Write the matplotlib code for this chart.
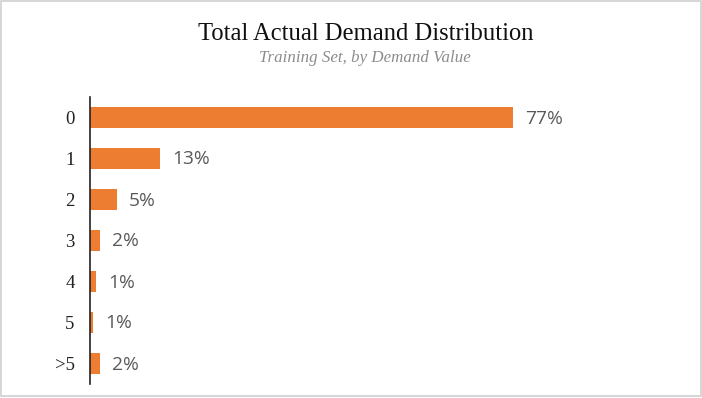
import matplotlib
matplotlib.use("Agg")
import matplotlib.pyplot as plt
from matplotlib.patches import Rectangle
from matplotlib.transforms import offset_copy

categories = ["0", "1", "2", "3", "4", "5", ">5"]
values = [77.2, 12.8, 4.9, 1.8, 1.1, 0.6, 1.8]
labels = ["77%", "13%", "5%", "2%", "1%", "1%", "2%"]

W, H = 702, 398
fig = plt.figure(figsize=(W / 100, H / 100), dpi=100)
fig.patch.set_facecolor("white")

ax = fig.add_axes([90 / W, 1 - 384 / H, 550 / W, (384 - 97) / H])
y = list(range(len(categories)))
ax.barh(y, values, height=0.52, color="#ED7D31")
ax.set_ylim(len(categories) - 0.5, -0.5)
ax.set_xlim(0, 100.4)
ax.set_yticks(y)
ax.set_yticklabels(categories, fontfamily="Liberation Serif", fontsize=13.5, color="#222222")
ax.tick_params(axis="y", length=0, pad=11)
ax.set_xticks([])
for s in ["top", "right", "bottom"]:
    ax.spines[s].set_visible(False)
ax.spines["left"].set_color("#222222")
ax.spines["left"].set_linewidth(1.2)

for yi, v, lab in zip(y, values, labels):
    tr = offset_copy(ax.transData, fig=fig, x=12, y=-1, units="dots")
    ax.text(v, yi, lab, transform=tr, va="center", ha="left",
            fontfamily="Open Sans", fontsize=13.8, color="#595959")

fig.text(366 / W, 1 - 34.5 / H, "Total Actual Demand Distribution",
         ha="center", va="center", fontfamily="Liberation Serif", fontsize=17.7, color="#111111")
fig.text(365 / W, 1 - 58 / H, "Training Set, by Demand Value",
         ha="center", va="center", fontfamily="Liberation Serif", fontstyle="italic",
         fontsize=12.2, color="#8c8c8c")

fig.patches.append(Rectangle((0.5 / W, 2.5 / H), (W - 2) / W, (H - 3.5) / H,
                             transform=fig.transFigure, fill=False,
                             edgecolor="#d0d0d0", linewidth=1.2))

fig.savefig("out.png", dpi=100)
